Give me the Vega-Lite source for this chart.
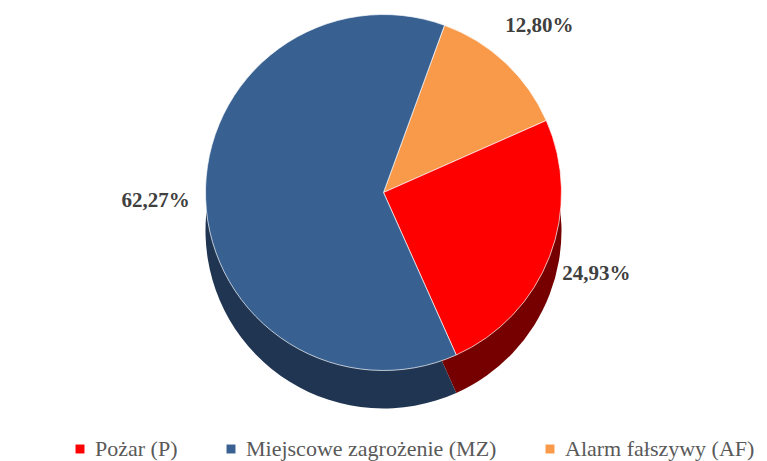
{
  "$schema": "https://vega.github.io/schema/vega-lite/v6.json",
  "width": 767,
  "height": 461,
  "autosize": {"type": "fit", "contains": "padding"},
  "background": "white",
  "data": {
    "values": [
      {"kategoria": "Alarm fałszywy (AF)", "procent": 12.80, "etykieta": "12,80%", "kolejnosc": 1},
      {"kategoria": "Pożar (P)", "procent": 24.93, "etykieta": "24,93%", "kolejnosc": 2},
      {"kategoria": "Miejscowe zagrożenie (MZ)", "procent": 62.27, "etykieta": "62,27%", "kolejnosc": 3}
    ]
  },
  "encoding": {
    "theta": {"field": "procent", "type": "quantitative", "stack": true, "scale": {"range": [0.35, 6.6332]}},
    "order": {"field": "kolejnosc", "type": "quantitative"}
  },
  "layer": [
    {
      "mark": {"type": "arc", "outerRadius": 178, "yOffset": 0},
      "encoding": {
        "color": {
          "field": "kategoria", "type": "nominal",
          "scale": {"domain": ["Pożar (P)", "Miejscowe zagrożenie (MZ)", "Alarm fałszywy (AF)"], "range": ["#760000", "#1f3552", "#8a5226"]},
          "legend": null
        }
      }
    },
    {
      "mark": {"type": "arc", "outerRadius": 178, "yOffset": -38, "stroke": "#ffffff", "strokeWidth": 0.7},
      "encoding": {
        "color": {
          "field": "kategoria", "type": "nominal",
          "scale": {"domain": ["Pożar (P)", "Miejscowe zagrożenie (MZ)", "Alarm fałszywy (AF)"], "range": ["#ff0000", "#386192", "#f9994a"]},
          "legend": {
            "title": null, "orient": "none", "direction": "horizontal",
            "legendX": 64, "legendY": 433,
            "symbolType": "square", "symbolSize": 80, "symbolStrokeWidth": 0,
            "labelFont": "'Liberation Serif', 'Times New Roman', 'DejaVu Serif'", "labelFontSize": 22, "labelColor": "#595959", "labelLimit": 400,
            "columnPadding": 42, "labelOffset": 4
          }
        }
      }
    },
    {
      "mark": {"type": "text", "radius": 228, "yOffset": -38, "font": "'Liberation Serif', 'Times New Roman', 'DejaVu Serif'", "fontWeight": "bold", "fontSize": 21, "color": "#404040"},
      "encoding": {"text": {"field": "etykieta", "type": "nominal"}}
    }
  ],
  "resolve": {"scale": {"color": "independent"}},
  "config": {
    "view": {"stroke": null}
  }
}
